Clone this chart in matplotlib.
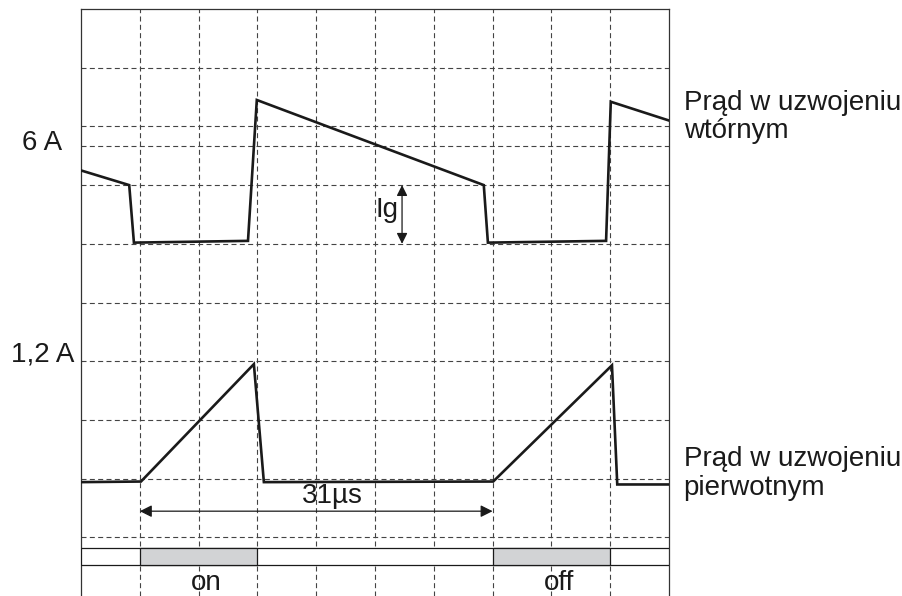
import matplotlib.pyplot as plt
from matplotlib.patches import Rectangle

plt.rcParams['font.family'] = ['Liberation Sans', 'DejaVu Sans']

# time axis in grid divisions (10 divisions), current in grid divisions (10 rows)
t_sec = [0.0, 0.82, 0.90, 2.84, 2.99, 6.85, 6.92, 8.93, 9.01, 10.0]
i_sec = [7.25, 7.00, 6.02, 6.05, 8.45, 7.00, 6.02, 6.05, 8.42, 8.10]

t_pri = [0.0, 1.02, 2.94, 3.11, 7.01, 9.03, 9.12, 10.0]
i_pri = [1.94, 1.95, 3.95, 1.94, 1.95, 3.93, 1.90, 1.90]

grid_x = [1, 2, 3, 4, 5, 6, 7, 8, 9]
grid_y = [1, 2, 3, 4, 5, 6, 7, 8, 9]
extra_y = 7.67

# switch state strip: (start, end) of the "on"/"off" gray intervals
switch_spans = [(1.0, 3.0), (7.0, 9.0)]
switch_labels = ['on', 'off']
switch_label_x = [2.13, 8.13]

period_start, period_end = 1.0, 7.0
ig_x, ig_lo, ig_hi = 5.46, 6.0, 7.0

FS = 20
INK = '#1a1a1a'

fig = plt.figure(figsize=(9.02, 5.96), dpi=100)
ax = fig.add_axes([81/902, 0, 588/902, 587/596])
ax.set_xlim(0, 10)
ax.set_ylim(0, 10)

for s in ['left', 'right', 'top']:
    ax.spines[s].set_color('#333333')
    ax.spines[s].set_linewidth(0.9)
ax.spines['bottom'].set_visible(False)
ax.set_xticks([])
ax.set_yticks([])

grid_kw = dict(color='#444444', linewidth=0.8, dashes=(4.5, 3), zorder=1)
for gx in grid_x:
    ax.axvline(gx, **grid_kw)
for gy in grid_y:
    ax.axhline(gy, **grid_kw)
ax.axhline(extra_y, **grid_kw)

# switch strip
ax.add_patch(Rectangle((0, 0.527), 10, 0.29, facecolor='white',
                       edgecolor=INK, linewidth=0.9, zorder=3))
for (a, b) in switch_spans:
    ax.add_patch(Rectangle((a, 0.527), b - a, 0.29, facecolor='#d2d3d5',
                           edgecolor=INK, linewidth=0.9, zorder=4))
for lab, lx in zip(switch_labels, switch_label_x):
    ax.text(lx, 0.22, lab, ha='center', va='center', fontsize=FS, color=INK)

# waveforms
ax.plot(t_sec, i_sec, color=INK, linewidth=1.9, zorder=5, solid_joinstyle='miter')
ax.plot(t_pri, i_pri, color=INK, linewidth=1.9, zorder=5, solid_joinstyle='miter')

# period arrow
ax.annotate('', xy=(period_end, 1.445), xytext=(period_start, 1.445),
            arrowprops=dict(arrowstyle='<|-|>', color=INK, lw=0.9,
                            mutation_scale=18, shrinkA=0, shrinkB=0), zorder=6)
ax.text(4.27, 1.70, '31µs', ha='center', va='center', fontsize=FS, color=INK)

# Ig arrow
ax.annotate('', xy=(ig_x, ig_hi), xytext=(ig_x, ig_lo),
            arrowprops=dict(arrowstyle='<|-|>', color=INK, lw=0.9,
                            mutation_scale=16, shrinkA=0, shrinkB=0), zorder=6)
ax.text(5.0, 6.58, 'Ig', ha='left', va='center', fontsize=FS, color=INK)

# left level labels
ax.text(-0.32, 7.72, '6 A', ha='right', va='center', fontsize=FS,
        color=INK, clip_on=False)
ax.text(-0.12, 4.12, '1,2 A', ha='right', va='center', fontsize=FS,
        color=INK, clip_on=False)

# right labels
right_kw = dict(ha='left', va='baseline', fontsize=FS, color=INK, clip_on=False)
ax.text(10.25, 8.28, 'Prąd w uzwojeniu', **right_kw)
ax.text(10.25, 7.81, 'wtórnym', **right_kw)
ax.text(10.25, 2.22, 'Prąd w uzwojeniu', **right_kw)
ax.text(10.25, 1.72, 'pierwotnym', **right_kw)

fig.savefig('out.png', dpi=100)
